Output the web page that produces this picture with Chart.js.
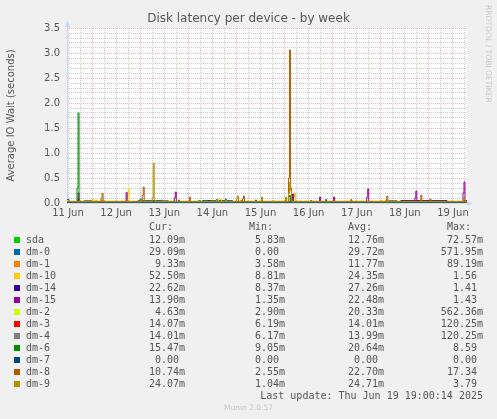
<!DOCTYPE html>
<html>
<head>
<meta charset="utf-8">
<script src="https://cdn.jsdelivr.net/npm/chart.js@4.4.1/dist/chart.umd.min.js"></script>
<style>
html, body { margin: 0; padding: 0; background: #f0f0f0; }
#wrap { position: relative; width: 497px; height: 419px; overflow: hidden; }
#c { position: absolute; left: 0; top: 0; }
.t { position: absolute; white-space: pre; color: #555; }
.mono { font-family: "DejaVu Sans Mono", monospace; font-size: 10px; line-height: 12px; }
.sq { position: absolute; width: 6px; height: 6px; }
</style>
</head>
<body>
<div id="wrap">
  <canvas id="c" width="497" height="419"></canvas>
  <div class="t" id="title" style="left:0;width:497px;top:11px;text-align:center;font:12px 'DejaVu Sans';color:#555;">Disk latency per device - by week</div>
  <div class="t" style="left:484px;top:5px;font:7.6px 'DejaVu Sans';color:#c8c8c8;transform-origin:0 0;transform:rotate(90deg) translate(0,-9px);">RRDTOOL / TOBI OETIKER</div>
  <div id="legend"></div>
  <div class="t" style="left:0;width:497px;top:403px;text-align:center;font:7.5px 'DejaVu Sans';color:#c8c8c8;">Munin 2.0.57</div>
</div>
<script>
// time axis in hours since 11 Jun 00:00, values in seconds
const dayLabels = ['11 Jun', '12 Jun', '13 Jun', '14 Jun', '15 Jun', '16 Jun', '17 Jun', '18 Jun', '19 Jun'];
const dayNoonHours = [12, 36, 60, 84, 108, 132, 156, 180, 204];
const gridHours = [12, 18, 24, 30, 36, 42, 48, 54, 60, 66, 72, 78, 84, 90, 96, 102, 108, 114, 120, 126, 132, 138, 144, 150, 156, 162, 168, 174, 180, 186, 192, 198, 204, 210];
const yLabels = ['0.0', '0.5', '1.0', '1.5', '2.0', '2.5', '3.0', '3.5'];

const seriesNames = ['sda', 'dm-0', 'dm-1', 'dm-10', 'dm-14', 'dm-15', 'dm-2', 'dm-3', 'dm-4', 'dm-6', 'dm-7', 'dm-8', 'dm-9'];
const seriesColors = ['#00CC00', '#0066B3', '#FF8000', '#FFCC00', '#330099', '#990099', '#CCFF00', '#FF0000', '#808080', '#008F00', '#00487D', '#B35A00', '#B38F00'];

const sda = [[11.5, 0.013], [30, 0.02], [31, 0.012], [77, 0.05], [78, 0.013], [122, 0.06], [123, 0.013], [160, 0.018], [161, 0.012], [211, 0.012]];
const dm0 = [[11.5, 0.07], [12.5, 0.025], [20, 0.045], [24, 0.025], [47, 0.05], [48, 0.08], [48.5, 0.05], [58.5, 0.06], [59, 0.045], [62, 0.025], [67, 0.06], [67.5, 0.025], [79, 0.05], [86, 0.07], [86.5, 0.05], [90.5, 0.08], [91, 0.05], [94, 0.025], [105.5, 0.06], [106, 0.025], [140.5, 0.07], [141, 0.025], [172, 0.045], [176, 0.025], [178, 0.05], [201, 0.025], [211, 0.03]];
const dm1 = [[11.5, 0.012], [28.5, 0.06], [29.5, 0.012], [98, 0.05], [99, 0.012], [170.5, 0.06], [171.5, 0.012], [211, 0.01]];
const dm10 = [[11.5, 0.018], [24, 0.07], [25, 0.018], [26, 0.06], [26.5, 0.018], [41.5, 0.15], [42, 0.28], [42.5, 0.018], [87, 0.08], [88.5, 0.018], [114.5, 0.05], [115, 0.018], [124.5, 0.12], [125, 0.2], [125.5, 0.018], [168, 0.06], [168.5, 0.018], [211, 0.018]];
const dm14 = [[11.5, 0.02], [17, 0.07], [17.5, 0.02], [82, 0.05], [83, 0.02], [178, 0.045], [201, 0.02], [209.5, 0.05], [210, 0.02], [211, 0.02]];
const dm15 = [[11.5, 0.012], [17, 0.2], [17.5, 0.012], [41, 0.21], [41.5, 0.012], [65, 0.1], [65.5, 0.22], [66, 0.012], [124, 0.18], [124.5, 0.012], [137.5, 0.12], [138, 0.012], [144.5, 0.12], [145, 0.012], [161, 0.12], [161.5, 0.28], [162, 0.012], [185, 0.1], [185.5, 0.24], [186, 0.012], [209, 0.2], [209.5, 0.42], [210, 0.05], [211, 0.014]];
const dm2 = [[11.5, 0.015], [114, 0.04], [115, 0.015], [121, 0.08], [122, 0.12], [123, 0.015], [211, 0.005]];
const dm3 = [[11.5, 0.014], [133, 0.05], [133.5, 0.014], [211, 0.014]];
const dm4 = [[11.5, 0.014], [133, 0.05], [133.5, 0.014], [211, 0.014]];
const dm6 = [[11.5, 0.015], [16.5, 0.3], [17, 1.8], [17.5, 0.015], [122, 0.12], [122.5, 0.15], [123, 0.015], [211, 0.015]];
const dm7 = [[11.5, 0], [211, 0]];
const dm8 = [[11.5, 0.025], [28.5, 0.1], [29, 0.19], [29.5, 0.025], [49, 0.15], [49.5, 0.32], [50, 0.025], [72.5, 0.12], [73, 0.025], [99, 0.08], [99.5, 0.14], [100, 0.025], [122, 0.5], [122.5, 3.06], [123, 0.3], [123.5, 0.025], [153, 0.07], [153.5, 0.025], [171, 0.14], [171.5, 0.025], [188, 0.16], [188.5, 0.025], [192.5, 0.08], [193, 0.025], [211, 0.01]];
const dm9 = [[11.5, 0.035], [54, 0.1], [54.5, 0.8], [55, 0.06], [55.5, 0.035], [96, 0.08], [96.5, 0.14], [97, 0.035], [108.5, 0.12], [109, 0.035], [120.5, 0.12], [121, 0.035], [122, 0.2], [122.5, 0.42], [123, 0.25], [123.5, 0.035], [209.5, 0.1], [210, 0.035], [211, 0.024]];
const seriesData = [sda, dm0, dm1, dm10, dm14, dm15, dm2, dm3, dm4, dm6, dm7, dm8, dm9];

const curValues = ['12.09m', '29.09m', '9.33m', '52.50m', '22.62m', '13.90m', '4.63m', '14.07m', '14.01m', '15.47m', '0.00', '10.74m', '24.07m'];
const minValues = ['5.83m', '0.00', '3.58m', '8.81m', '8.37m', '1.35m', '2.90m', '6.19m', '6.17m', '9.05m', '0.00', '2.55m', '1.04m'];
const avgValues = ['12.76m', '29.72m', '11.77m', '24.35m', '27.26m', '22.48m', '20.33m', '14.01m', '13.99m', '20.64m', '0.00', '22.70m', '24.71m'];
const maxValues = ['72.57m', '571.95m', '89.19m', '1.56', '1.41', '1.43', '562.36m', '120.25m', '120.25m', '8.59', '0.00', '17.34', '3.79'];
const lastUpdate = 'Last update: Thu Jun 19 19:00:14 2025';

const yGrid = [];
for (let k = 0; k <= 35; k++) yGrid.push(k / 10);

const textColor = '#555';
const minorGrid = 'rgba(143,143,143,0.45)';
const majorGrid = 'rgba(222,79,79,0.42)';
const axisColor = '#CFD6F8';

const rrdLook = {
  id: 'rrdLook',
  beforeDraw(chart) {
    const {ctx, chartArea: a} = chart;
    ctx.save();
    ctx.fillStyle = '#ffffff';
    ctx.fillRect(a.left, a.top, a.right - a.left, a.bottom - a.top);
    ctx.restore();
  },
  beforeDatasetsDraw(chart) {
    const {ctx, chartArea: a} = chart;
    ctx.save();
    ctx.strokeStyle = axisColor;
    ctx.fillStyle = axisColor;
    ctx.lineWidth = 1;
    ctx.beginPath();
    ctx.moveTo(a.left + 0.5, a.bottom);
    ctx.lineTo(a.left + 0.5, a.top - 4);
    ctx.moveTo(a.left, a.bottom + 0.5);
    ctx.lineTo(a.right + 3, a.bottom + 0.5);
    ctx.stroke();
    ctx.beginPath();
    ctx.moveTo(a.left - 2.5, a.top - 1);
    ctx.lineTo(a.left + 3.5, a.top - 1);
    ctx.lineTo(a.left + 0.5, a.top - 7);
    ctx.closePath();
    ctx.fill();
    ctx.beginPath();
    ctx.moveTo(a.right, a.bottom - 2.5);
    ctx.lineTo(a.right, a.bottom + 3.5);
    ctx.lineTo(a.right + 6, a.bottom + 0.5);
    ctx.closePath();
    ctx.fill();
    ctx.restore();
  }
};

const datasets = seriesNames.map((name, i) => ({
  label: name,
  data: seriesData[i],
  borderColor: seriesColors[i],
  backgroundColor: seriesColors[i],
  borderWidth: 1,
  stepped: true,
  pointRadius: 0,
  fill: false,
  order: seriesNames.length - i
}));

new Chart(document.getElementById('c'), {
  type: 'line',
  data: {datasets},
  options: {
    responsive: false,
    animation: false,
    devicePixelRatio: 1,
    layout: {padding: {left: 0, top: 28, right: 30, bottom: 196}},
    plugins: {legend: {display: false}, tooltip: {enabled: false}},
    scales: {
      x: {
        type: 'linear',
        min: 11.5,
        max: 211,
        afterBuildTicks: s => { s.ticks = gridHours.map(v => ({value: v})); },
        afterFit: s => { s.height = 20; s.paddingLeft = 0; s.paddingRight = 0; },
        ticks: {
          autoSkip: false,
          maxRotation: 0,
          padding: 4,
          color: textColor,
          font: {family: 'DejaVu Sans', size: 10},
          callback: v => {
            const i = dayNoonHours.indexOf(v);
            return i >= 0 ? dayLabels[i] : '';
          }
        },
        grid: {
          drawTicks: false,
          lineWidth: 1,
          color: c => {
            const v = c.tick ? c.tick.value : 0;
            return v % 24 === 0 ? majorGrid : minorGrid;
          }
        },
        border: {display: false, dash: [1, 1]}
      },
      y: {
        min: 0,
        max: 3.5,
        afterBuildTicks: s => { s.ticks = yGrid.map(v => ({value: v})); },
        afterFit: s => { s.width = 67; s.paddingTop = 0; s.paddingBottom = 0; },
        ticks: {
          autoSkip: false,
          padding: 7,
          color: textColor,
          font: {family: 'DejaVu Sans', size: 10},
          callback: v => {
            const k = Math.round(v * 10);
            return k % 5 === 0 ? yLabels[k / 5] : '';
          }
        },
        grid: {
          drawTicks: false,
          lineWidth: 1,
          color: c => {
            const k = c.tick ? Math.round(c.tick.value * 10) : 0;
            return k % 5 === 0 ? majorGrid : minorGrid;
          }
        },
        border: {display: false, dash: [1, 1]},
        title: {
          display: true,
          text: 'Average IO Wait (seconds)',
          color: textColor,
          font: {family: 'DejaVu Sans', size: 10},
          padding: {top: 5, bottom: 0}
        }
      }
    }
  },
  plugins: [rrdLook]
});

// legend block, laid out like rrdtool's fixed columns
const legend = document.getElementById('legend');
function put(text, x, cy, align) {
  const d = document.createElement('div');
  d.className = 't mono';
  d.textContent = text;
  d.style.top = (cy - 6) + 'px';
  if (align === 'right') d.style.right = (497 - x) + 'px';
  else d.style.left = x + 'px';
  legend.appendChild(d);
}
put('Cur:', 149, 227);
put('Min:', 249, 227);
put('Avg:', 348, 227);
put('Max:', 447, 227);
const unit = v => /m$/.test(v) ? v : v + ' ';
seriesNames.forEach((name, i) => {
  const cy = 240 + 12 * i;
  const sq = document.createElement('div');
  sq.className = 'sq';
  sq.style.left = '14px';
  sq.style.top = (cy - 3) + 'px';
  sq.style.background = seriesColors[i];
  legend.appendChild(sq);
  put(name, 26, cy);
  put(unit(curValues[i]), 185, cy, 'right');
  put(unit(minValues[i]), 285, cy, 'right');
  put(unit(avgValues[i]), 384, cy, 'right');
  put(unit(maxValues[i]), 483, cy, 'right');
});
put(lastUpdate, 483, 396, 'right');
</script>
</body>
</html>
